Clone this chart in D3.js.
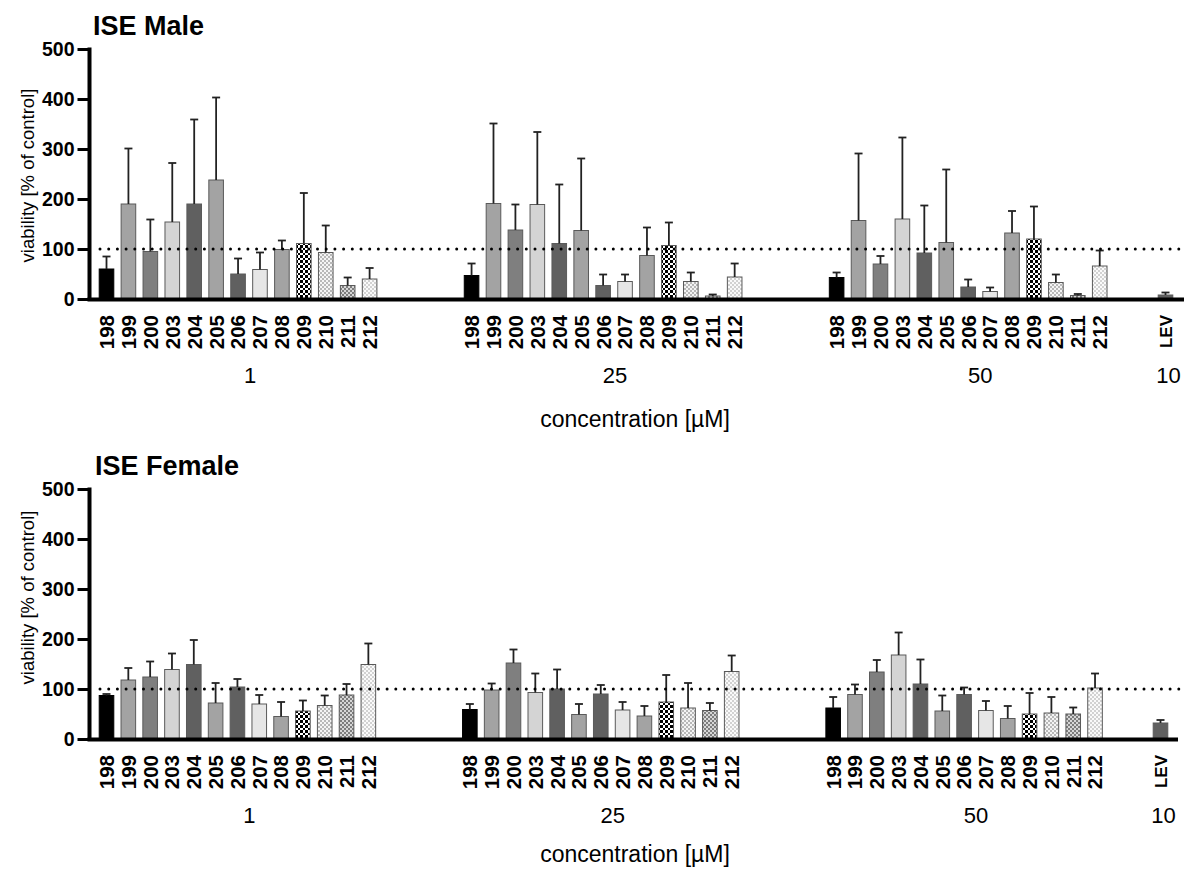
<!DOCTYPE html>
<html><head><meta charset="utf-8">
<script src="https://cdn.jsdelivr.net/npm/d3@7"></script>
<style>body{margin:0;background:#fff}svg{display:block}text{font-family:"Liberation Sans",Arial,sans-serif}</style>
</head><body><svg id="c" width="1184" height="869"></svg>
<script>
// ---------- data ----------
const compounds = ["198","199","200","203","204","205","206","207","208","209","210","211","212"];
const concentrations = ["1","25","50"];
const controlLabel = "LEV";
const controlConc = "10";
const yTicks = [0,100,200,300,400,500];

const maleMean = [
  [60,190,95,154,190,238,50,59,99,111,93,27,40],
  [47,191,138,189,111,137,27,35,87,107,35,6,44],
  [43,157,70,160,92,113,24,15,132,120,33,7,66]
];
const maleSD = [
  [25,111,64,118,169,165,31,34,18,101,54,16,22],
  [24,160,51,145,118,144,22,14,56,46,18,3,27],
  [10,134,16,163,95,146,15,8,44,65,16,3,31]
];
const maleLEV = [8,5];

const femaleMean = [
  [87,118,124,139,149,72,104,70,45,56,67,88,149],
  [59,98,152,93,100,49,90,58,46,74,62,57,135],
  [62,89,134,168,110,56,89,57,41,50,52,50,102]
];
const femaleSD = [
  [3,24,31,32,49,40,16,18,29,21,20,22,42],
  [11,13,27,38,39,21,18,16,20,54,50,15,32],
  [22,20,24,45,49,31,14,19,25,42,32,13,29]
];
const femaleLEV = [32,6];

const fills = ["#000000","#a3a3a3","#7f7f7f","#d4d4d4","#606060","#a3a3a3","#606060","#e6e6e6","#a3a3a3","url(#p209)","url(#p210)","url(#p211)","url(#p212)"];
const levFill = "#606060";

// ---------- drawing ----------
const svg = d3.select("#c");
svg.append("rect").attr("width",1184).attr("height",869).attr("fill","#fff");
const defs = svg.append("defs");
function checker(id, size, a, b){
  const p = defs.append("pattern").attr("id",id).attr("patternUnits","userSpaceOnUse")
    .attr("width",size*2).attr("height",size*2);
  p.append("rect").attr("width",size*2).attr("height",size*2).attr("fill",b);
  p.append("rect").attr("width",size).attr("height",size).attr("fill",a).attr("shape-rendering","crispEdges");
  p.append("rect").attr("x",size).attr("y",size).attr("width",size).attr("height",size).attr("fill",a).attr("shape-rendering","crispEdges");
}
checker("p209",2.5,"#000","#fff");
checker("p210",2,"#b8b8b8","#f4f4f4");
checker("p211",2,"#7d7d7d","#d6d6d6");
checker("p212",2,"#d2d2d2","#fafafa");

const GROUP_STEP = 16.65, LEV_SLOT = 48.3;

function panel(cfg){
  const off = cfg.off;
  const y = d3.scaleLinear().domain([0,500]).range([299+off,49+off]);
  const x = d3.scaleLinear().domain([0,LEV_SLOT]).range([106.5,cfg.xEnd]);
  const bw = 14.6;
  const g = svg.append("g");

  // title
  g.append("text").attr("x",cfg.tx).attr("y",35+off).attr("font-size",27).attr("font-weight","bold").text(cfg.title);

  // bars
  const items = [];
  concentrations.forEach((c,gi)=>{
    compounds.forEach((k,i)=>{
      items.push({slot: gi*GROUP_STEP+i, mean: cfg.mean[gi][i], sd: cfg.sd[gi][i], fill: fills[i], black: i===0});
    });
  });
  items.push({slot: LEV_SLOT, mean: cfg.lev[0], sd: cfg.lev[1], fill: levFill, black:false});

  g.selectAll("rect.bar").data(items).enter().append("rect").attr("class","bar")
    .attr("x",d=>x(d.slot)-bw/2).attr("width",bw)
    .attr("y",d=>y(d.mean)).attr("height",d=>y(0)-y(d.mean))
    .attr("fill",d=>d.fill).attr("stroke",d=>d.black?"#000":"#5a5a5a").attr("stroke-width",1);

  const eb = g.selectAll("g.eb").data(items).enter().append("g").attr("class","eb")
    .attr("stroke","#222").attr("stroke-width",1.8);
  eb.append("line").attr("x1",d=>x(d.slot)).attr("x2",d=>x(d.slot)).attr("y1",d=>y(d.mean)).attr("y2",d=>y(d.mean+d.sd));
  eb.append("line").attr("x1",d=>x(d.slot)-4).attr("x2",d=>x(d.slot)+4).attr("y1",d=>y(d.mean+d.sd)).attr("y2",d=>y(d.mean+d.sd));

  // dotted reference line at 100
  g.append("line").attr("x1",100).attr("x2",1184).attr("y1",y(100)).attr("y2",y(100))
    .attr("stroke","#000").attr("stroke-width",3).attr("stroke-linecap","round").attr("stroke-dasharray","0 8.7");

  // y axis
  const ya = g.append("g").attr("transform","translate(89.5,0)")
    .call(d3.axisLeft(y).tickValues(yTicks).tickSize(12).tickSizeOuter(0).tickPadding(3));
  ya.select(".domain").attr("stroke","#000").attr("stroke-width",4).attr("d",`M0,${y(500)-1.5}V${y(0)}`);
  ya.selectAll(".tick line").attr("stroke","#000").attr("stroke-width",3);
  ya.selectAll(".tick text").attr("font-size",19.5).attr("font-weight","bold").attr("fill","#000")
    .attr("font-family","'Liberation Sans',Arial,sans-serif");

  // x axis line
  g.append("line").attr("x1",87.5).attr("x2",cfg.axEnd).attr("y1",y(0)+0.5).attr("y2",y(0)+0.5)
    .attr("stroke","#000").attr("stroke-width",4);

  // category labels
  g.selectAll("text.cat").data(items).enter().append("text").attr("class","cat")
    .attr("transform",d=>`translate(${x(d.slot)},${315+off}) rotate(-90)`)
    .attr("dy","0.36em").attr("text-anchor","end").attr("font-weight","bold")
    .attr("font-size",(d,i)=>i===items.length-1?17:20.5)
    .text((d,i)=>i===items.length-1?controlLabel:compounds[i%compounds.length]);

  // concentration labels
  concentrations.forEach((c,gi)=>{
    g.append("text").attr("x",x(gi*GROUP_STEP+6)+12).attr("y",383+off).attr("text-anchor","middle")
      .attr("font-size",22).text(c);
  });
  g.append("text").attr("x",x(LEV_SLOT)+3).attr("y",383+off).attr("text-anchor","middle").attr("font-size",22).text(controlConc);

  // axis titles
  g.append("text").attr("x",635).attr("y",cfg.xty).attr("text-anchor","middle").attr("font-size",23).text("concentration [µM]");
  g.append("text").attr("transform",`translate(33.5,${cfg.yty}) rotate(-90)`).attr("text-anchor","middle")
    .attr("font-size",18.5).text("viability [% of control]");
}

panel({off:0, title:"ISE Male", tx:93, mean:maleMean, sd:maleSD, lev:maleLEV, xEnd:1165.5, axEnd:1184, yty:175.5, xty:427});
panel({off:440, title:"ISE Female", tx:95, mean:femaleMean, sd:femaleSD, lev:femaleLEV, xEnd:1160.5, axEnd:1178, yty:597.5, xty:862});
</script></body></html>
